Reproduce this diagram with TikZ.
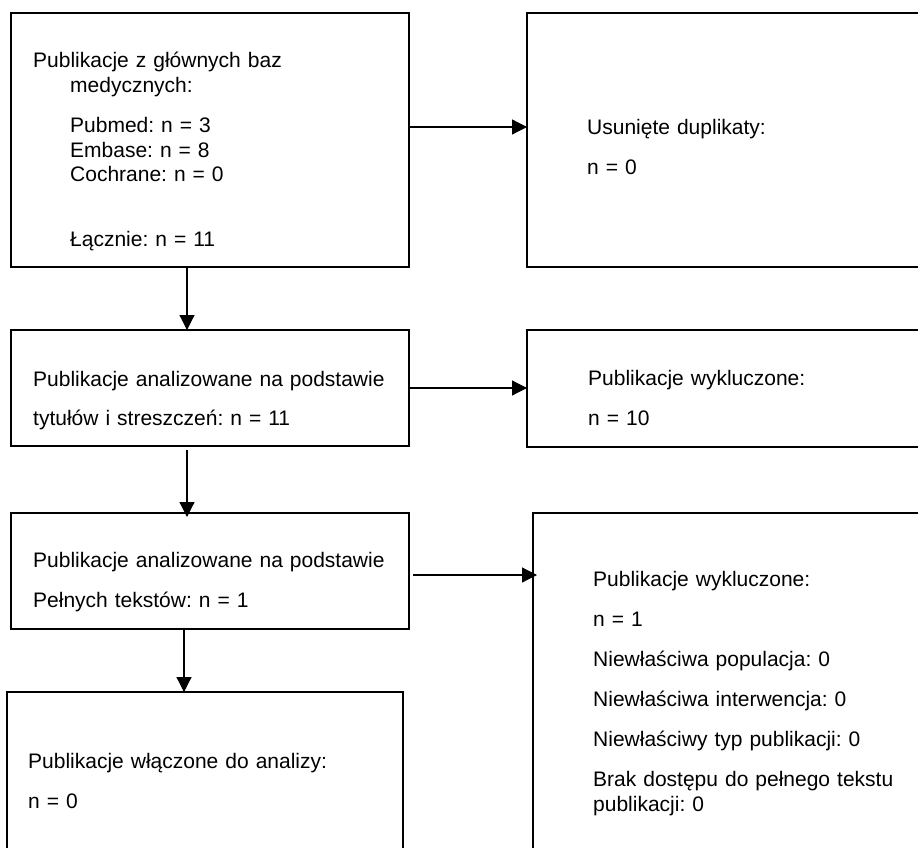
\documentclass[tikz,border=0pt]{standalone}
\usepackage{fontspec}
\setmainfont{Liberation Sans}
\frenchspacing
\usetikzlibrary{arrows.meta}

\tikzset{
  box/.style={draw, line width=2.4pt, rectangle, inner sep=0pt, outer sep=0pt, anchor=north west},
  txt/.style={anchor=base west, inner sep=0pt, align=left, text width=420pt, font=\fontsize{21}{24.5}\selectfont},
  arr/.style={line width=1.2pt, -{Triangle[length=15pt,width=15pt]}},
}

\begin{document}
\begin{tikzpicture}[x=1pt, y=-1pt]
	\useasboundingbox (0,0) rectangle (918,848);
	\clip (0,0) rectangle (918,848);

	% boxes
	\node[box, minimum width=398pt, minimum height=254pt] (zrodla) at (11,13) {};
	\node[box, minimum width=400pt, minimum height=254pt] (duplikaty) at (527,13) {};
	\node[box, minimum width=398pt, minimum height=116pt] (przeglad) at (11,330) {};
	\node[box, minimum width=400pt, minimum height=117pt] (wykl1) at (527,330) {};
	\node[box, minimum width=398pt, minimum height=116pt] (pelne) at (11,513) {};
	\node[box, minimum width=396pt, minimum height=180pt] (wlaczone) at (7,692) {};
	\node[box, minimum width=400pt, minimum height=360pt] (wykl2) at (533,513) {};

	% texts
	\node[txt] (zrodlaTxt) at (33,68) {Publikacje z głównych baz\\
		\hspace*{37pt}medycznych:\\[16pt]
		\hspace*{37pt}Pubmed: n = 3\\
		\hspace*{37pt}Embase: n = 8\\
		\hspace*{37pt}Cochrane: n = 0\\[40pt]
		\hspace*{37pt}Łącznie: n = 11};
	\node[txt] (duplikatyTxt) at (587,135) {Usunięte duplikaty:\\[15.5pt] n = 0};
	\node[txt] (przegladTxt) at (33,386) {Publikacje analizowane na podstawie\\[15pt] tytułów i streszczeń: n = 11};
	\node[txt] (wykl1Txt) at (588,385) {Publikacje wykluczone:\\[15.5pt] n = 10};
	\node[txt] (pelneTxt) at (33,567) {Publikacje analizowane na podstawie\\[15.5pt] Pełnych tekstów: n = 1};
	\node[txt] (wlaczoneTxt) at (28,768) {Publikacje włączone do analizy:\\[15.5pt] n = 0};
	\node[txt] (wykl2Txt) at (593,586) {Publikacje wykluczone:\\[15.5pt]
		n = 1\\[15.5pt]
		Niewłaściwa populacja: 0\\[16pt]
		Niewłaściwa interwencja: 0\\[15.5pt]
		Niewłaściwy typ publikacji: 0\\[15.5pt]
		Brak dostępu do pełnego tekstu\\
		publikacji: 0};

	% connectors
	\draw[arr] ([yshift=13pt]zrodla.east) -- ([yshift=13pt]zrodla.east -| duplikaty.west);
	\draw[arr] ([xshift=-23pt]zrodla.south) -- ([xshift=-23pt]zrodla.south |- przeglad.north);
	\draw[arr] (przeglad.east) -- (przeglad.east -| wykl1.west);
	\draw[arr] ([shift={(-23pt,-4pt)}]przeglad.south) -- ([shift={(-23pt,-4pt)}]przeglad.south |- pelne.north);
	\draw[arr] ([shift={(4pt,-4pt)}]pelne.east) -- ([shift={(4pt,-4pt)}]pelne.east -| wykl2.west);
	\draw[arr] ([xshift=-26pt]pelne.south) -- ([xshift=-26pt]pelne.south |- wlaczone.north);
\end{tikzpicture}
\end{document}
